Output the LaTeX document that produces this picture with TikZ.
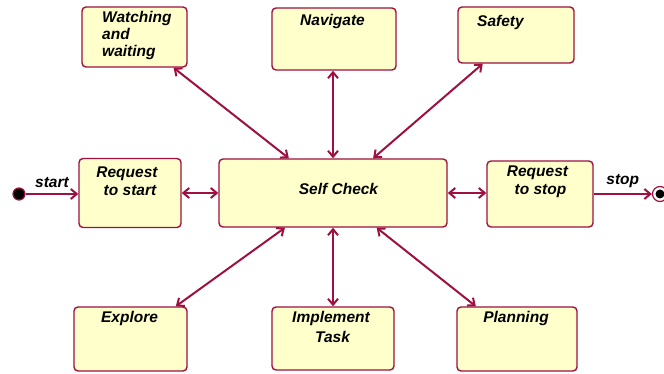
\documentclass[tikz,border=0pt]{standalone}
\usepackage{fontspec}
\setmainfont{Liberation Sans}
\usetikzlibrary{arrows.meta}
\definecolor{crim}{RGB}{158,16,64}
\definecolor{boxfill}{RGB}{255,255,204}
\tikzset{
  box/.style={draw=crim, fill=boxfill, line width=1.4pt, rounded corners=4pt, inner sep=0pt},
  lbl/.style={font=\fontsize{15.5}{18}\selectfont\bfseries\itshape, inner sep=0pt, text=black},
  dbl/.style={draw=crim, line width=2pt, {Straight Barb[length=6pt,width=10pt]}-{Straight Barb[length=6pt,width=10pt]}},
  sgl/.style={draw=crim, line width=2pt, -{Straight Barb[length=6pt,width=10pt]}},
}
\begin{document}
\begin{tikzpicture}[x=1pt,y=-1pt]
\useasboundingbox (0,0) rectangle (664,374);
\clip (0,0) rectangle (664,374);
% boxes
\node[box, minimum width=105pt, minimum height=60pt] (watch) at (134.5,37) {};
\node[box, minimum width=124pt, minimum height=62pt] (nav) at (334,39) {};
\node[box, minimum width=116pt, minimum height=56pt] (safe) at (516,35) {};
\node[box, minimum width=102pt, minimum height=69pt] (rqs) at (130,193) {};
\node[box, minimum width=228pt, minimum height=68pt] (sc) at (333,193) {};
\node[box, minimum width=106pt, minimum height=66pt] (rqstop) at (540,194) {};
\node[box, minimum width=113pt, minimum height=64pt] (expl) at (130.5,339) {};
\node[box, minimum width=122pt, minimum height=63pt] (impl) at (333,338.5) {};
\node[box, minimum width=120pt, minimum height=64pt] (plan) at (517,339) {};
% start / end
\node[circle, fill=black, draw=crim, line width=1.2pt, minimum size=12pt, inner sep=0pt] (start) at (19,194) {};
\node[circle, fill=white, draw=crim, line width=1.2pt, minimum size=15pt, inner sep=0pt] (endc) at (660,194) {};
\node[circle, fill=black, minimum size=9pt, inner sep=0pt] (endin) at (660,194) {};
% texts
\node[lbl, anchor=base west] (t1a) at (102,23) {Watching};
\node[lbl, anchor=base west] (t1b) at (102,40) {and};
\node[lbl, anchor=base west] (t1c) at (102,57) {waiting};
\node[lbl, anchor=base] (t2) at (332.5,26) {Navigate};
\node[lbl, anchor=base] (t3) at (500.5,27) {Safety};
\node[lbl, anchor=base] (t4a) at (127,178) {Request};
\node[lbl, anchor=base] (t4b) at (130,196) {to start};
\node[lbl, anchor=base] (t5) at (338.5,195) {Self Check};
\node[lbl, anchor=base] (t6a) at (537.5,177) {Request};
\node[lbl, anchor=base] (t6b) at (540.5,195) {to stop};
\node[lbl, anchor=base] (t7) at (129.5,322) {Explore};
\node[lbl, anchor=base] (t8a) at (331,322) {Implement};
\node[lbl, anchor=base] (t8b) at (332.5,342) {Task};
\node[lbl, anchor=base] (t9) at (516,322) {Planning};
% connectors
\draw[dbl] (watch) -- (sc);
\draw[dbl] (nav.south -| sc.north) -- (sc.north);
\draw[dbl] (safe) -- (sc);
\draw[dbl] (rqs) -- (sc);
\draw[dbl] (sc) -- (rqstop.west |- sc);
\draw[dbl] (expl) -- (sc);
\draw[dbl] (impl.north -| sc.south) -- (sc.south);
\draw[dbl] (plan) -- (sc);
\draw[sgl] (start) -- (start -| rqs.west) node[lbl, midway, above=5pt] (ls) {start};
\draw[sgl] (rqstop.east |- endc) -- (endc.west) node[lbl, midway, above=5pt] (lt) {stop};
\end{tikzpicture}
\end{document}
